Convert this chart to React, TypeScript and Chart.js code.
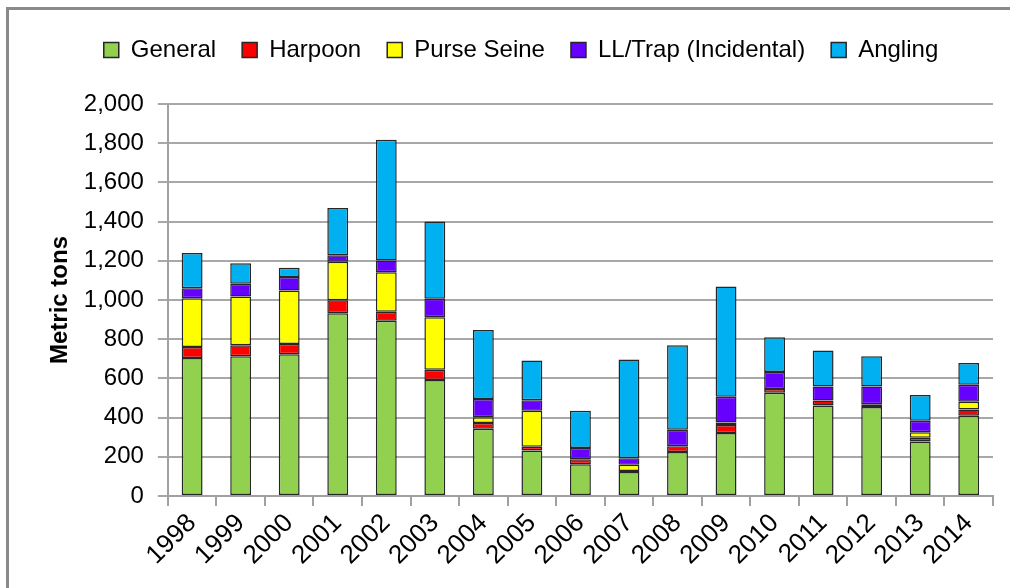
import React, { useEffect, useRef } from "react";
import { Chart, registerables } from "chart.js";

Chart.register(...registerables);

const years = ["1998","1999","2000","2001","2002","2003","2004","2005","2006","2007","2008","2009","2010","2011","2012","2013","2014"];
const general = [704, 713, 723, 933, 894, 592, 343, 232, 162, 123, 225, 322, 527, 462, 454, 278, 409];
const harpoon = [56, 56, 53, 66, 46, 52, 29, 20, 26, 5, 29, 40, 19, 26, 14, 19, 32];
const purseSeine = [249, 249, 273, 196, 202, 268, 30, 183, 0, 32, 0, 13, 0, 0, 0, 29, 40];
const llTrap = [51, 65, 68, 33, 60, 94, 93, 54, 57, 33, 84, 131, 87, 71, 91, 58, 87];
const angling = [180, 105, 48, 242, 616, 394, 352, 202, 190, 504, 431, 563, 177, 184, 154, 131, 111];

const seriesNames = ["General", "Harpoon", "Purse Seine", "LL/Trap (Incidental)", "Angling"];
const seriesColors = ["#92D050", "#FF0000", "#FFFF00", "#6600FF", "#00B0F0"];
const yTicks = [0, 200, 400, 600, 800, 1000, 1200, 1400, 1600, 1800, 2000];

const FONT = "'Liberation Sans', Arial, sans-serif";

export default function App() {
  const ref = useRef<HTMLCanvasElement | null>(null);

  useEffect(() => {
    if (!ref.current) return;
    const seriesData = [general, harpoon, purseSeine, llTrap, angling];
    const legendMargin = {
      id: "legendMargin",
      beforeInit(chart: any) {
        const orig = chart.legend.fit;
        chart.legend.fit = function () {
          orig.bind(chart.legend)();
          this.height += 32;
        };
      },
      afterLayout(chart: any) {
        if (chart.legend) {
          chart.legend.left += 7;
          chart.legend.right += 7;
        }
      },
    };
    const chart = new Chart(ref.current, {
      type: "bar",
      data: {
        labels: years,
        datasets: seriesNames.map((name, i) => ({
          label: name,
          data: seriesData[i],
          backgroundColor: seriesColors[i],
          borderColor: "#262626",
          borderWidth: 1.5,
          borderSkipped: false,
          categoryPercentage: 1,
          barPercentage: 0.43,
        })),
      },
      options: {
        animation: false,
        responsive: false,
        maintainAspectRatio: false,
        layout: { padding: { left: 35, right: 17, top: 12, bottom: 15 } },
        font: { family: FONT },
        plugins: {
          tooltip: { enabled: false },
          legend: {
            position: "top",
            labels: {
              font: { family: FONT, size: 24 },
              color: "#000",
              boxWidth: 15,
              boxHeight: 15,
              padding: 26,
            },
          },
        },
        scales: {
          x: {
            stacked: true,
            grid: {
              display: true,
              drawOnChartArea: false,
              drawTicks: true,
              tickLength: 10,
              offset: true,
              color: "#a0a0a0",
              lineWidth: 2,
            },
            border: { display: true, color: "#a0a0a0", width: 2 },
            ticks: {
              font: { family: FONT, size: 26 },
              color: "#000",
              maxRotation: 45,
              minRotation: 45,
              padding: 2,
              autoSkip: false,
            },
          },
          y: {
            stacked: true,
            min: 0,
            max: 2000,
            afterBuildTicks: (scale: any) => {
              scale.ticks = yTicks.map((v) => ({ value: v }));
            },
            grid: {
              color: "#a8a8a8",
              lineWidth: 2,
              tickLength: 10,
            },
            border: { display: true, color: "#a0a0a0", width: 2 },
            ticks: {
              font: { family: FONT, size: 24 },
              color: "#000",
              padding: 14,
              callback: (v: any) => Number(v).toLocaleString("en-US"),
            },
            title: {
              display: true,
              text: "Metric tons",
              font: { family: FONT, size: 24, weight: "bold" },
              color: "#000",
              padding: { top: 11, bottom: -5 },
            },
          },
        },
      },
      plugins: [legendMargin],
    });
    return () => chart.destroy();
  }, []);

  return (
    <div style={{ position: "fixed", left: 0, top: 0, width: 1010, height: 588, background: "#fff", overflow: "hidden" }}>
      <div
        style={{
          position: "absolute",
          left: 6,
          top: 7,
          width: 1100,
          height: 700,
          borderLeft: "3px solid #8a8a8a",
          borderTop: "3px solid #8a8a8a",
        }}
      />
      <canvas ref={ref} width={1010} height={588} style={{ position: "absolute", left: 0, top: 0 }} />
    </div>
  );
}
